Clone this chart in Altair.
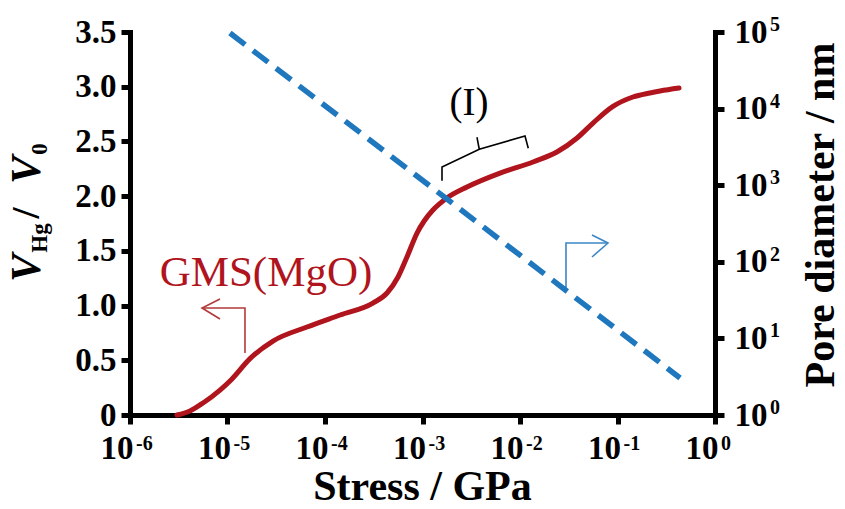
import altair as alt
import pandas as pd

FONT = "Liberation Serif"
RED = "#B0141C"
BLUE = "#1F77BE"

# ---- data ----
stress = [3.03e-6, 4.12e-6, 5.61e-6, 8.38e-6, 1.10e-5, 1.70e-5, 2.93e-5, 6.53e-5,
          1.43e-4, 3.10e-4, 4.33e-4, 5.61e-4, 6.93e-4, 8.79e-4, 1.04e-3, 1.28e-3,
          1.78e-3, 2.86e-3, 6.24e-3, 1.36e-2, 2.39e-2, 3.85e-2, 5.61e-2, 8.99e-2,
          0.144, 0.215, 0.273, 0.428]
v_ratio = [0.0, 0.037, 0.110, 0.228, 0.325, 0.515, 0.676, 0.804,
           0.914, 1.023, 1.115, 1.261, 1.444, 1.663, 1.773, 1.873,
           1.983, 2.084, 2.211, 2.312, 2.403, 2.531, 2.668, 2.820,
           2.906, 2.943, 2.961, 2.988]

pore_stress = [1.06e-5, 1.78e-3, 0.438]
pore_diameter = [9.7e4, 660.0, 3.04]

x_ticks = [1e-6, 1e-5, 1e-4, 1e-3, 1e-2, 1e-1, 1.0]
x_exps = ["-6", "-5", "-4", "-3", "-2", "-1", "0"]
v_ticks = [0, 0.5, 1.0, 1.5, 2.0, 2.5, 3.0, 3.5]
d_ticks = [1, 10, 100, 1e3, 1e4, 1e5]
d_exps = ["0", "1", "2", "3", "4", "5"]

# annotation shapes (data coordinates: stress, V/V0)
red_arrow_s = [1.511e-5, 1.511e-5, 5.475e-6, 8.377e-6, 5.475e-6, 8.377e-6]
red_arrow_v = [0.567, 0.978, 0.978, 1.060, 0.978, 0.877]
red_arrow_g = [0, 0, 0, 1, 1, 1]

blue_arrow_s = [0.02963, 0.02963, 0.07991, 0.05477, 0.07991, 0.05477]
blue_arrow_v = [1.142, 1.572, 1.572, 1.645, 1.572, 1.444]
blue_arrow_g = [0, 0, 0, 1, 1, 1]

brace_s = [1.585e-3, 1.585e-3, 3.825e-3, 0.01125, 0.01216, 3.825e-3, 3.62e-3]
brace_v = [2.141, 2.266, 2.428, 2.550, 2.437, 2.428, 2.538]
brace_g = [0, 0, 0, 0, 0, 1, 1]

W, H = 585, 383

curve = pd.DataFrame({"stress": stress, "V": v_ratio})
pore = pd.DataFrame({"stress": pore_stress, "diam": pore_diameter})
xsup = pd.DataFrame({"stress": x_ticks, "exp": x_exps})
dsup = pd.DataFrame({"diam": d_ticks, "exp": d_exps})


def poly(s, v, g):
    return pd.DataFrame({"stress": s, "V": v, "g": g, "o": list(range(len(s)))})


common_axis = dict(
    grid=False, title=None, labelFont=FONT, labelFontSize=33, labelFontWeight="bold",
    labelColor="black", tickSize=9, tickWidth=5, tickColor="black",
    domainWidth=5, domainColor="black", domainCap="square", labelOverlap=False,
)

x_enc = alt.X(
    "stress:Q",
    scale=alt.Scale(type="log", domain=[1e-6, 1]),
    axis=alt.Axis(values=x_ticks, labelExpr="'10'", labelAlign="right", labelOffset=3,
                  labelBaseline="alphabetic", labelPadding=34, labelFlush=False,
                  **common_axis),
)
yl_enc = alt.Y(
    "V:Q",
    scale=alt.Scale(domain=[0, 3.5]),
    axis=alt.Axis(values=v_ticks, orient="left", labelPadding=5,
                  labelExpr="datum.value == 0 ? '0' : format(datum.value, '.1f')",
                  **common_axis),
)
yr_enc = alt.Y(
    "diam:Q",
    scale=alt.Scale(type="log", domain=[1, 1e5]),
    axis=alt.Axis(values=d_ticks, orient="right", labelExpr="'10'", labelAlign="left",
                  labelPadding=10, **common_axis),
)


def txt(text, x, y, size, angle=0, style="normal", weight="bold", color="black",
        align="center"):
    return alt.Chart(pd.DataFrame({"t": [text]})).mark_text(
        font=FONT, fontSize=size, fontWeight=weight, fontStyle=style, angle=angle,
        align=align, baseline="alphabetic", color=color,
    ).encode(x=alt.value(x), y=alt.value(y), text="t:N")


def polyline(df, color, width):
    return alt.Chart(df).mark_line(color=color, strokeWidth=width, strokeCap="butt",
                                   strokeJoin="miter").encode(
        x=x_enc, y=yl_enc, detail="g:N", order="o:Q")


red_line = alt.Chart(curve).mark_line(
    color=RED, strokeWidth=5, strokeCap="round", interpolate="monotone"
).encode(x=x_enc, y=yl_enc)

red_arrow = polyline(poly(red_arrow_s, red_arrow_v, red_arrow_g), "#B23A3A", 1.6)
blue_arrow = polyline(poly(blue_arrow_s, blue_arrow_v, blue_arrow_g), "#3D86C6", 1.6)
brace = polyline(poly(brace_s, brace_v, brace_g), "black", 1.6)

gms = alt.Chart(pd.DataFrame({"stress": [2.48e-5], "V": [1.179], "t": ["GMS(MgO)"]})).mark_text(
    font=FONT, fontSize=43, color=RED, align="center", baseline="alphabetic"
).encode(x=x_enc, y=yl_enc, text="t:N")

roman = alt.Chart(pd.DataFrame({"stress": [3.0e-3], "V": [2.741], "t": ["(I)"]})).mark_text(
    font=FONT, fontSize=39, color="black", align="center", baseline="alphabetic"
).encode(x=x_enc, y=yl_enc, text="t:N")

x_super = alt.Chart(xsup).mark_text(
    font=FONT, fontSize=20, fontWeight="bold", align="left", baseline="alphabetic",
    dx=6, color="black"
).encode(x=x_enc, y=alt.value(H + 35), text="exp:N")

# axis titles built from parts
titles = [
    txt("V", -90, 236, 42, angle=270, style="italic"),
    txt("Hg", -83, 206, 23, angle=270),
    txt("/", -91, 181, 40, angle=270),
    txt("V", -90, 138, 42, angle=270, style="italic"),
    txt("0", -83, 117, 23, angle=270),
    txt("Stress / GPa", W / 2, 468, 42),
    txt("Pore diameter / nm", 704, 183, 42, angle=270),
]

left = alt.layer(red_line, red_arrow, blue_arrow, brace, gms, roman, x_super, *titles)

blue_line = alt.Chart(pore).mark_line(
    color=BLUE, strokeWidth=5.5, strokeDash=[19, 10], strokeCap="butt"
).encode(x=x_enc, y=yr_enc)

d_super = alt.Chart(dsup).mark_text(
    font=FONT, fontSize=20, fontWeight="bold", align="left", baseline="alphabetic",
    dy=-1, color="black"
).encode(x=alt.value(W + 55), y=yr_enc, text="exp:N")

right = alt.layer(blue_line, d_super)

chart = alt.layer(left, right).resolve_scale(y="independent").properties(
    width=W, height=H,
    padding={"left": 122, "top": 24, "right": 122, "bottom": 86},
    autosize=alt.AutoSizeParams(type="none"),
    background="white",
).configure_view(strokeWidth=0)

chart.save("out.html", embed_options={"renderer": "svg", "actions": False})
